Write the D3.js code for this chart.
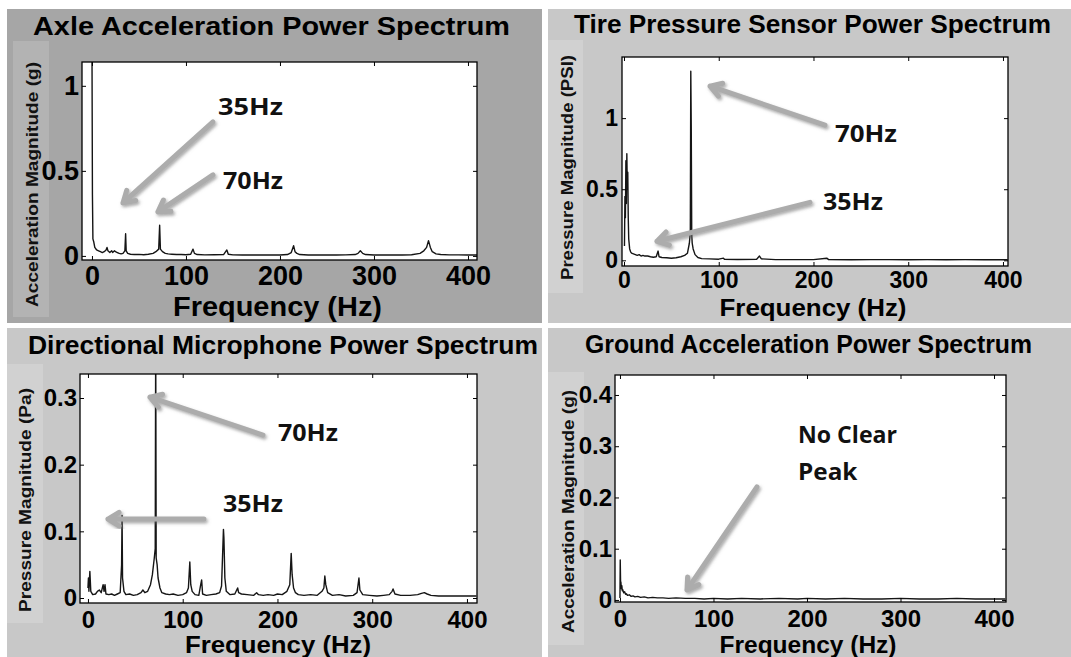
<!DOCTYPE html>
<html>
<head>
<meta charset="utf-8">
<script src="https://cdn.jsdelivr.net/npm/d3@7"></script>
<style>
  html, body { margin: 0; padding: 0; background: #fff; }
  svg { display: block; }
</style>
</head>
<body>
<svg id="chart" width="1071" height="657"></svg>
<script>
const d3 = window.d3

// spectra: [frequency Hz, magnitude]
const axleSpectrum = [
  [0, 1.25], [0.5, 0.36], [1, 0.1], [2, 0.08], [3, 0.05], [5, 0.035], [7, 0.03], [9, 0.025],
  [11, 0.02], [13, 0.025], [15, 0.035], [16, 0.05], [17, 0.03], [19, 0.02], [21, 0.03], [22, 0.02],
  [24, 0.03], [25, 0.025], [27, 0.02], [29, 0.015], [31, 0.012], [33, 0.015], [35, 0.03], [35.8, 0.13],
  [36.4, 0.03], [38, 0.015], [41, 0.01], [45, 0.008], [50, 0.009], [55, 0.007], [60, 0.01], [65, 0.015],
  [68, 0.025], [71, 0.04], [72, 0.18], [72.8, 0.04], [75, 0.025], [78, 0.015], [81, 0.012], [85, 0.01],
  [90, 0.008], [95, 0.008], [100, 0.007], [105, 0.01], [107.5, 0.04], [109, 0.015], [112, 0.008],
  [120, 0.006], [130, 0.007], [140, 0.008], [143.5, 0.035], [145, 0.01], [150, 0.006], [160, 0.005],
  [170, 0.006], [180, 0.005], [190, 0.006], [200, 0.005], [208, 0.008], [212, 0.02], [214.5, 0.06],
  [216, 0.025], [218, 0.015], [221, 0.008], [230, 0.005], [240, 0.005], [250, 0.006], [260, 0.005],
  [270, 0.006], [280, 0.008], [283, 0.015], [285.5, 0.03], [288, 0.015], [291, 0.008], [300, 0.005],
  [310, 0.005], [320, 0.006], [330, 0.005], [340, 0.007], [349, 0.015], [353, 0.03], [356, 0.05],
  [358, 0.09], [360, 0.05], [362, 0.025], [366, 0.012], [371, 0.008], [380, 0.006], [390, 0.006],
  [400, 0.005], [410, 0.005]
]

const tireSpectrum = [
  [0.5, 0.1], [1, 0.45], [1.5, 0.3], [2, 0.7], [2.5, 0.4], [3, 0.75], [3.5, 0.5], [4, 0.62],
  [4.5, 0.3], [5, 0.15], [6, 0.08], [7, 0.06], [8, 0.05], [10, 0.045], [12, 0.04], [14, 0.035],
  [16, 0.04], [18, 0.03], [20, 0.035], [22, 0.03], [25, 0.03], [28, 0.025], [31, 0.022], [34, 0.025],
  [36, 0.065], [37, 0.025], [40, 0.02], [45, 0.018], [50, 0.015], [55, 0.018], [60, 0.025], [64, 0.035],
  [67, 0.05], [69, 0.12], [70, 0.2], [70.5, 1.33], [71, 0.93], [71.5, 0.18], [72, 0.12], [73, 0.08],
  [75, 0.04], [78, 0.02], [82, 0.012], [90, 0.01], [100, 0.008], [105, 0.015], [106, 0.008],
  [120, 0.006], [140, 0.008], [143, 0.03], [145, 0.01], [160, 0.005], [180, 0.005], [200, 0.005],
  [214, 0.015], [216, 0.005], [240, 0.004], [260, 0.005], [280, 0.005], [300, 0.004], [320, 0.005],
  [340, 0.004], [360, 0.005], [380, 0.004], [400, 0.004], [405, 0.004]
]

const micSpectrum = [
  [0, 0.015], [0.5, 0.03], [1, 0.01], [2, 0.04], [3, 0.01], [5, 0.005], [8, 0.006], [10, 0.01],
  [12, 0.012], [14, 0.008], [16, 0.02], [17, 0.01], [18, 0.02], [19, 0.006], [22, 0.005], [25, 0.006],
  [28, 0.004], [31, 0.006], [34, 0.008], [35.5, 0.05], [36, 0.124], [36.5, 0.03], [38, 0.01], [40, 0.005],
  [44, 0.006], [48, 0.004], [52, 0.005], [56, 0.008], [58, 0.012], [60, 0.008], [63, 0.01], [66, 0.02],
  [68, 0.035], [70, 0.06], [71, 0.074], [71.5, 0.4], [72, 0.06], [73, 0.05], [74, 0.03], [76, 0.015],
  [78, 0.008], [82, 0.006], [86, 0.005], [90, 0.006], [95, 0.004], [100, 0.005], [104, 0.008],
  [106, 0.015], [107.5, 0.054], [108.5, 0.02], [110, 0.01], [113, 0.005], [117, 0.004], [119, 0.02],
  [120, 0.027], [121, 0.006], [125, 0.004], [130, 0.005], [135, 0.006], [139, 0.008], [141, 0.018],
  [143, 0.103], [143.5, 0.09], [144.5, 0.03], [146, 0.01], [150, 0.005], [155, 0.006], [158, 0.015],
  [159, 0.008], [162, 0.006], [168, 0.005], [175, 0.004], [178, 0.008], [180, 0.005], [185, 0.004],
  [190, 0.005], [196, 0.004], [200, 0.006], [205, 0.005], [210, 0.01], [213, 0.02], [214.5, 0.067],
  [215.5, 0.035], [217, 0.015], [219, 0.008], [222, 0.005], [228, 0.004], [235, 0.005], [242, 0.004],
  [247, 0.01], [249, 0.015], [250, 0.033], [251, 0.02], [253, 0.008], [258, 0.004], [265, 0.005],
  [272, 0.003], [280, 0.004], [284, 0.008], [286, 0.03], [287, 0.012], [290, 0.005], [297, 0.004],
  [305, 0.003], [312, 0.004], [318, 0.005], [321, 0.01], [322, 0.0135], [324, 0.006], [330, 0.004],
  [340, 0.004], [348, 0.005], [352, 0.007], [355, 0.008], [358, 0.006], [362, 0.004], [370, 0.003],
  [380, 0.003], [390, 0.003], [400, 0.003], [410, 0.003]
]

const groundSpectrum = [
  [0, 0.004], [0.3, 0.078], [0.7, 0.03], [1, 0.035], [1.5, 0.022], [2, 0.028], [2.5, 0.018], [3, 0.02],
  [4, 0.014], [5, 0.016], [6, 0.011], [7, 0.012], [8, 0.009], [10, 0.01], [12, 0.007], [14, 0.008],
  [16, 0.006], [19, 0.007], [22, 0.005], [26, 0.006], [30, 0.004], [35, 0.005], [40, 0.004], [46, 0.004],
  [52, 0.003], [60, 0.004], [70, 0.003], [80, 0.003], [90, 0.002], [100, 0.003], [115, 0.002],
  [130, 0.003], [150, 0.002], [170, 0.003], [190, 0.002], [200, 0.003], [220, 0.002], [240, 0.003],
  [260, 0.002], [280, 0.002], [300, 0.003], [320, 0.002], [340, 0.002], [360, 0.003], [380, 0.002],
  [400, 0.002], [412, 0.002]
]

const titles = [
  'Axle Acceleration Power Spectrum',
  'Tire Pressure Sensor Power Spectrum',
  'Directional Microphone Power Spectrum',
  'Ground Acceleration Power Spectrum'
]
const yLabels = [
  'Acceleration Magnitude (g)',
  'Pressure Magnitude (PSI)',
  'Pressure Magnitude (Pa)',
  'Acceleration Magnitude (g)'
]
const xLabel = 'Frequency (Hz)'
const xTicks = [0, 100, 200, 300, 400]
const yTicks = [[0, 0.5, 1], [0, 0.5, 1], [0, 0.1, 0.2, 0.3], [0, 0.1, 0.2, 0.3, 0.4]]

// annotation text and arrows, in data units (text left/baseline, arrow tail, arrow tip)
const axleNotes = [
  { lines: ['35Hz'], at: [134, 0.83], w: 65, from: [128.7, 0.788], to: [33, 0.312] },
  { lines: ['70Hz'], at: [139.4, 0.394], w: 60, from: [128.7, 0.476], to: [70.2, 0.259] }
]
const tireNotes = [
  { lines: ['70Hz'], at: [222.7, 0.831], w: 62, from: [212.1, 0.951], to: [90.8, 1.225] },
  { lines: ['35Hz'], at: [210, 0.352], w: 60, from: [196.3, 0.408], to: [34.8, 0.134] }
]
const micNotes = [
  { lines: ['70Hz'], at: [200.5, 0.2354], w: 60, from: [184.7, 0.2444], to: [65.4, 0.3013] },
  { lines: ['35Hz'], at: [142.5, 0.129], w: 60, from: [122.4, 0.1184], to: [21.1, 0.1184] }
]
const groundNotes = [
  { lines: ['No Clear', 'Peak'], at: [190.4, 0.3066], w: 99, from: [146.5, 0.2207], to: [71.7, 0.0195] }
]

const series = [axleSpectrum, tireSpectrum, micSpectrum, groundSpectrum]
const notes = [axleNotes, tireNotes, micNotes, groundNotes]

// layout for each panel (pixels)
const panels = [
  { bg: [7, 9, 535, 314], bgFill: '#a6a6a6', box: [13, 41, 36, 276], boxFill: '#b3b3b3',
    frame: [82, 62, 395, 198], xDomain: [-10.6, 409.6], yDomain: [-0.024, 1.14],
    title: [271.5, 35, 477], ylab: [32, 184.5, 245], xlab: [277.5, 316, 209, 27],
    tickSize: 27, xPad: 6, yPad: 3, noteSize: 24, noteGap: 37 },
  { bg: [548, 9, 523, 314], bgFill: '#c8c8c8', box: [548, 40, 35, 253], boxFill: '#d1d1d1',
    frame: [622, 57, 386, 209], xDomain: [-2.1, 405.3], yDomain: [-0.04, 1.43],
    title: [812.5, 33, 477], ylab: [567, 167.5, 225], xlab: [813, 316, 187, 24],
    tickSize: 23, xPad: 6, yPad: 4, noteSize: 23, noteGap: 37 },
  { bg: [7, 328, 535, 329], bgFill: '#c8c8c8', box: [7, 364, 36, 259], boxFill: '#d1d1d1',
    frame: [80, 374, 397, 229], xDomain: [-8.4, 410.6], yDomain: [-0.0075, 0.336],
    title: [283, 354, 510], ylab: [25, 500, 224], xlab: [278, 653, 186, 24],
    tickSize: 24, xPad: 8, yPad: 3, noteSize: 23, noteGap: 37 },
  { bg: [548, 328, 523, 329], bgFill: '#c8c8c8', box: [548, 372, 36, 273], boxFill: '#d1d1d1',
    frame: [615, 375, 391, 227], xDomain: [-5.3, 412.8], yDomain: [-0.004, 0.439],
    title: [808.5, 353, 447], ylab: [568, 511.5, 243], xlab: [808, 653, 177, 24],
    tickSize: 24, xPad: 8, yPad: 3, noteSize: 23, noteGap: 37 }
]

const svg = d3.select('#chart')
const defs = svg.append('defs')

const shadow = defs.append('filter').attr('id', 'shadow')
  .attr('x', '-20%').attr('y', '-20%').attr('width', '140%').attr('height', '140%')
shadow.append('feDropShadow')
  .attr('dx', 1.5).attr('dy', 2).attr('stdDeviation', 1.6)
  .attr('flood-color', '#6a6a6a').attr('flood-opacity', 0.55)

const sans = "'Liberation Sans', Arial, sans-serif"
const noteFont = "'Open Sans', 'Noto Sans', sans-serif"

function arrowPath (x0, y0, x1, y1) {
  const ang = Math.atan2(y1 - y0, x1 - x0)
  const len = 13
  const spread = 0.55
  const ax = x1 - len * Math.cos(ang - spread)
  const ay = y1 - len * Math.sin(ang - spread)
  const bx = x1 - len * Math.cos(ang + spread)
  const by = y1 - len * Math.sin(ang + spread)
  return `M${x0},${y0}L${x1},${y1}M${ax},${ay}L${x1},${y1}L${bx},${by}`
}

panels.forEach((p, i) => {
  const g = svg.append('g')
  const [fx, fy, fw, fh] = p.frame

  g.append('rect').attr('x', p.bg[0]).attr('y', p.bg[1])
    .attr('width', p.bg[2]).attr('height', p.bg[3]).attr('fill', p.bgFill)
  g.append('rect').attr('x', p.box[0]).attr('y', p.box[1])
    .attr('width', p.box[2]).attr('height', p.box[3]).attr('fill', p.boxFill)
  g.append('rect').attr('x', fx).attr('y', fy)
    .attr('width', fw).attr('height', fh).attr('fill', '#fff')

  const x = d3.scaleLinear().domain(p.xDomain).range([fx, fx + fw])
  const y = d3.scaleLinear().domain(p.yDomain).range([fy + fh, fy])

  defs.append('clipPath').attr('id', `clip${i}`)
    .append('rect').attr('x', fx).attr('y', fy).attr('width', fw).attr('height', fh)

  const line = d3.line().x(d => x(d[0])).y(d => y(d[1]))
  g.append('path').datum(series[i])
    .attr('clip-path', `url(#clip${i})`)
    .attr('d', line)
    .attr('fill', 'none')
    .attr('stroke', '#151515')
    .attr('stroke-width', 1.4)
    .attr('stroke-linejoin', 'round')

  const fmt = d => String(d)
  const bottom = g.append('g').attr('transform', `translate(0,${fy + fh})`)
    .call(d3.axisBottom(x).tickValues(xTicks).tickFormat(fmt)
      .tickSizeInner(-4).tickSizeOuter(0).tickPadding(p.xPad))
  const top = g.append('g').attr('transform', `translate(0,${fy})`)
    .call(d3.axisTop(x).tickValues(xTicks).tickFormat('')
      .tickSizeInner(-4).tickSizeOuter(0))
  const left = g.append('g').attr('transform', `translate(${fx},0)`)
    .call(d3.axisLeft(y).tickValues(yTicks[i]).tickFormat(fmt)
      .tickSizeInner(-4).tickSizeOuter(0).tickPadding(p.yPad))
  const right = g.append('g').attr('transform', `translate(${fx + fw},0)`)
    .call(d3.axisRight(y).tickValues(yTicks[i]).tickFormat('')
      .tickSizeInner(-4).tickSizeOuter(0))

  ;[bottom, top, left, right].forEach(a => {
    a.select('.domain').remove()
    a.selectAll('line').attr('stroke', '#000').attr('stroke-width', 1)
    a.selectAll('text')
      .attr('fill', '#000')
      .style('font-family', sans)
      .style('font-weight', 'bold')
      .style('font-size', `${p.tickSize}px`)
  })

  g.append('rect').attr('x', fx).attr('y', fy)
    .attr('width', fw).attr('height', fh)
    .attr('fill', 'none').attr('stroke', '#000').attr('stroke-width', 1.3)

  g.append('text')
    .attr('x', p.title[0]).attr('y', p.title[1])
    .attr('text-anchor', 'middle')
    .attr('textLength', p.title[2])
    .attr('lengthAdjust', 'spacingAndGlyphs')
    .style('font-family', sans).style('font-weight', 'bold').style('font-size', '25px')
    .attr('fill', '#000')
    .text(titles[i])

  g.append('text')
    .attr('transform', `translate(${p.ylab[0]},${p.ylab[1]}) rotate(-90)`)
    .attr('text-anchor', 'middle')
    .attr('dy', '0.36em')
    .attr('textLength', p.ylab[2])
    .attr('lengthAdjust', 'spacingAndGlyphs')
    .style('font-family', sans).style('font-weight', 'bold').style('font-size', '17px')
    .attr('fill', '#111')
    .text(yLabels[i])

  g.append('text')
    .attr('x', p.xlab[0]).attr('y', p.xlab[1])
    .attr('text-anchor', 'middle')
    .attr('textLength', p.xlab[2])
    .attr('lengthAdjust', 'spacingAndGlyphs')
    .style('font-family', sans).style('font-weight', 'bold').style('font-size', `${p.xlab[3]}px`)
    .attr('fill', '#000')
    .text(xLabel)

  notes[i].forEach(n => {
    g.append('path')
      .attr('d', arrowPath(x(n.from[0]), y(n.from[1]), x(n.to[0]), y(n.to[1])))
      .attr('fill', 'none')
      .attr('stroke', '#acacac')
      .attr('stroke-width', 5)
      .attr('stroke-linecap', 'round')
      .attr('stroke-linejoin', 'round')
      .attr('filter', 'url(#shadow)')
    n.lines.forEach((t, k) => {
      g.append('text')
        .attr('x', x(n.at[0]))
        .attr('y', y(n.at[1]) + k * p.noteGap)
        .attr('textLength', k === 0 ? n.w : n.w * 0.6)
        .attr('lengthAdjust', 'spacingAndGlyphs')
        .style('font-family', noteFont).style('font-weight', 'bold')
        .style('font-size', `${p.noteSize}px`)
        .attr('fill', '#111')
        .text(t)
    })
  })
})
</script>
</body>
</html>
